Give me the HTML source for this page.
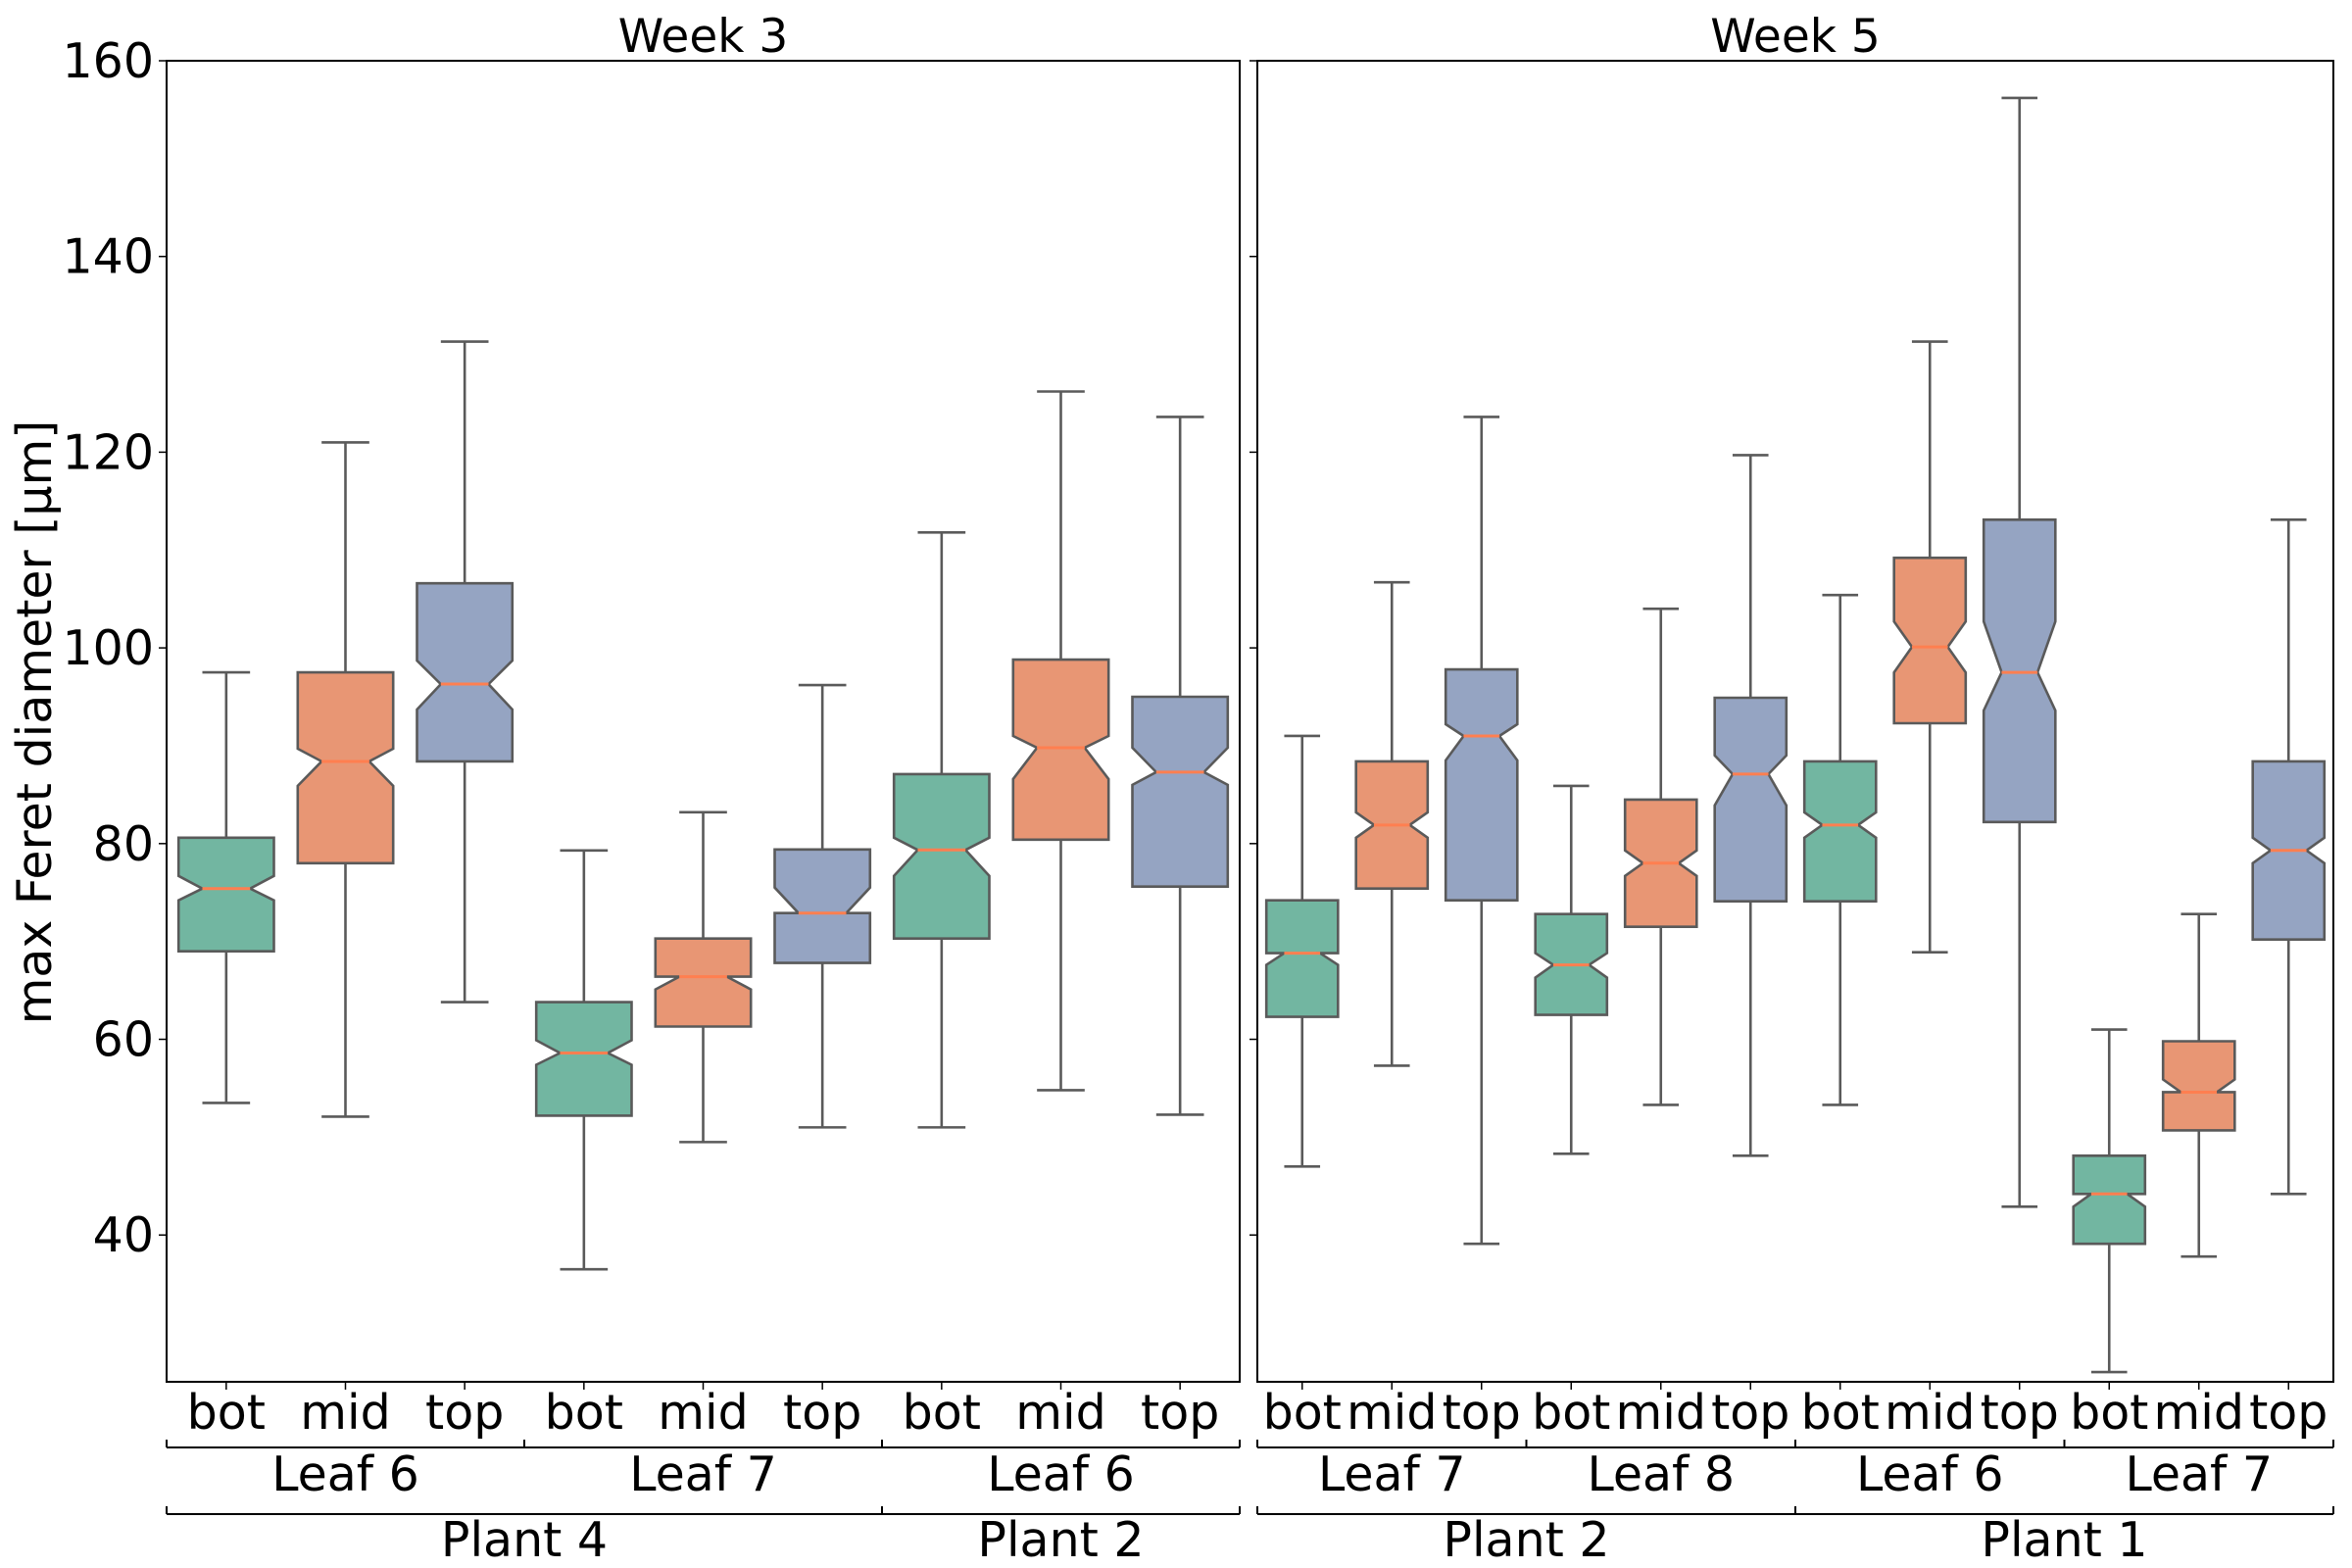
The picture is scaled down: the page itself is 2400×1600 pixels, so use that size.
<!DOCTYPE html>
<html><head><meta charset="utf-8"><style>
html,body{margin:0;padding:0;background:#fff;}
svg{display:block;font-family:"DejaVu Sans","Liberation Sans",sans-serif;}
</style></head><body>
<svg id="chart" width="2400" height="1600" viewBox="0 0 2400 1600" xmlns="http://www.w3.org/2000/svg">
<rect width="2400" height="1600" fill="#fff"/>
<g id="plot"></g>
<text x="0" y="0" transform="translate(52,737) rotate(-90)" text-anchor="middle" font-size="49" fill="#000">max Feret diameter [µm]</text>
</svg>
<script>
// Week 3 panel data
const w3Cats = ["bot","mid","top","bot","mid","top","bot","mid","top"];
const w3WhiskLo = [53.5,52.1,63.8,36.5,49.5,51.0,51.0,54.8,52.3];
const w3Q1 = [69.0,78.0,88.4,52.2,61.3,67.8,70.3,80.4,75.6];
const w3NotchLo = [74.2,85.9,93.7,57.4,65.1,72.9,76.7,86.6,86.0];
const w3Median = [75.4,88.4,96.3,58.6,66.4,72.9,79.35,89.8,87.3];
const w3NotchHi = [76.7,89.7,98.7,59.9,66.4,75.5,80.6,91.0,89.8];
const w3Q3 = [80.6,97.5,106.6,63.8,70.3,79.4,87.1,98.8,95.0];
const w3WhiskHi = [97.5,121.0,131.3,79.3,83.2,96.2,111.8,126.2,123.6];
const w3Leaves = [["Leaf 6",0,3],["Leaf 7",3,6],["Leaf 6",6,9]];
const w3Plants = [["Plant 4",0,6],["Plant 2",6,9]];
// Week 5 panel data
const w5Cats = ["bot","mid","top","bot","mid","top","bot","mid","top","bot","mid","top"];
const w5WhiskLo = [47.0,57.3,39.1,48.3,53.3,48.1,53.3,68.9,42.9,26.0,37.8,44.2];
const w5Q1 = [62.3,75.4,74.2,62.5,71.5,74.1,74.1,92.3,82.2,39.1,50.7,70.2];
const w5NotchLo = [67.6,80.6,88.5,66.3,76.7,83.9,80.6,97.5,93.6,42.9,54.6,78.0];
const w5Median = [68.8,81.9,91.0,67.6,78.0,87.1,81.9,100.1,97.5,44.2,54.6,79.3];
const w5NotchHi = [68.8,83.2,92.2,68.8,79.3,89.0,83.2,102.7,102.7,44.2,55.9,80.6];
const w5Q3 = [74.2,88.4,97.8,72.8,84.5,94.9,88.4,109.2,113.1,48.1,59.8,88.4];
const w5WhiskHi = [91.0,106.7,123.6,85.9,104.0,119.7,105.4,131.3,156.2,61.0,72.8,113.1];
const w5Leaves = [["Leaf 7",0,3],["Leaf 8",3,6],["Leaf 6",6,9],["Leaf 7",9,12]];
const w5Plants = [["Plant 2",0,6],["Plant 1",6,12]];
const yTicks = [40,60,80,100,120,140,160];

const NS="http://www.w3.org/2000/svg";
const plot=document.getElementById('plot');
const Y0=62, Y1=1410, VMIN=25, VMAX=160;
function yScale(v){return Y0+(VMAX-v)*(Y1-Y0)/(VMAX-VMIN);}
const fills={bot:"#72b6a1",mid:"#e89674",top:"#95a4c2"};
function mk(tag,attrs){const e=document.createElementNS(NS,tag);for(const k in attrs)e.setAttribute(k,attrs[k]);plot.appendChild(e);return e;}

function panel(x0,x1,title,cats,wl,q1,nl,md,nh,q3,wh,leaves,plants,showLabels){
  const n=cats.length, slot=(x1-x0)/n;
  const xs=i=>x0+(i+0.5)*slot;
  const t=mk('text',{x:(x0+x1)/2,y:53,'text-anchor':'middle','font-size':47,fill:'#000'});
  
  
  t.textContent=title;
  yTicks.forEach(v=>{
    const l=mk('line',{x1:x0-8,x2:x0,y1:yScale(v),y2:yScale(v),stroke:'#000','stroke-width':1.5});
    
    
    if(showLabels){
      const tl=mk('text',{x:x0-13,y:yScale(v)+17,'text-anchor':'end','font-size':49,fill:'#000'});
      
      
      tl.textContent=v;
    }
  });
  for(let i=0;i<n;i++){
    const cx=xs(i), hw=slot*0.4, iw=hw*0.5;
    const g=mk('g',{});
    
    
    const ln=(a,b,c,d,col,w)=>{const e=document.createElementNS(NS,'line');e.setAttribute('x1',a);e.setAttribute('y1',b);e.setAttribute('x2',c);e.setAttribute('y2',d);e.setAttribute('stroke',col);e.setAttribute('stroke-width',w);g.appendChild(e);return e;};
    ln(cx,yScale(wh[i]),cx,yScale(q3[i]),'#5a5a5a',2.6);
    ln(cx,yScale(q1[i]),cx,yScale(wl[i]),'#5a5a5a',2.6);
    ln(cx-hw/2,yScale(wh[i]),cx+hw/2,yScale(wh[i]),'#5a5a5a',2.6);
    ln(cx-hw/2,yScale(wl[i]),cx+hw/2,yScale(wl[i]),'#5a5a5a',2.6);
    const pts=[[cx-hw,q1[i]],[cx-hw,nl[i]],[cx-iw,md[i]],[cx-hw,nh[i]],[cx-hw,q3[i]],[cx+hw,q3[i]],[cx+hw,nh[i]],[cx+iw,md[i]],[cx+hw,nl[i]],[cx+hw,q1[i]]];
    const p=document.createElementNS(NS,'polygon');
    p.setAttribute('points',pts.map(q=>q[0].toFixed(1)+','+yScale(q[1]).toFixed(1)).join(' '));
    p.setAttribute('fill',fills[cats[i]]);p.setAttribute('stroke','#5a5a5a');p.setAttribute('stroke-width',2.6);
    g.appendChild(p);
    ln(cx-iw,yScale(md[i]),cx+iw,yScale(md[i]),'#ff7f50',3);
    const tk=mk('line',{x1:cx,x2:cx,y1:Y1,y2:Y1+8,stroke:'#000','stroke-width':1.5});
    
    
    const xl=mk('text',{x:cx,y:1458,'text-anchor':'middle','font-size':49,fill:'#000'});
    
    
    xl.textContent=cats[i];
  }
  const fr=mk('rect',{x:x0,y:Y0,width:x1-x0,height:Y1-Y0,fill:'none',stroke:'#000','stroke-width':2});
  
  
  function brackets(groups,ly,ty,cls){
    const L=mk('line',{x1:x0,x2:x1,y1:ly,y2:ly,stroke:'#000','stroke-width':2});
    
    
    groups.forEach(gp=>{
      [gp[1],gp[2]].forEach(k=>{mk('line',{x1:x0+k*slot,x2:x0+k*slot,y1:ly-8,y2:ly,stroke:'#000','stroke-width':2});});
      const tx=mk('text',{x:x0+(gp[1]+gp[2])/2*slot,y:ty,'text-anchor':'middle','font-size':49,fill:'#000'});
      
      
      tx.textContent=gp[0];
    });
  }
  brackets(leaves,1477,1521,'leaf');
  brackets(plants,1545,1588,'plant');
}
panel(170,1265,"Week 3",w3Cats,w3WhiskLo,w3Q1,w3NotchLo,w3Median,w3NotchHi,w3Q3,w3WhiskHi,w3Leaves,w3Plants,true);
panel(1283,2381,"Week 5",w5Cats,w5WhiskLo,w5Q1,w5NotchLo,w5Median,w5NotchHi,w5Q3,w5WhiskHi,w5Leaves,w5Plants,false);
</script>
</body></html>
